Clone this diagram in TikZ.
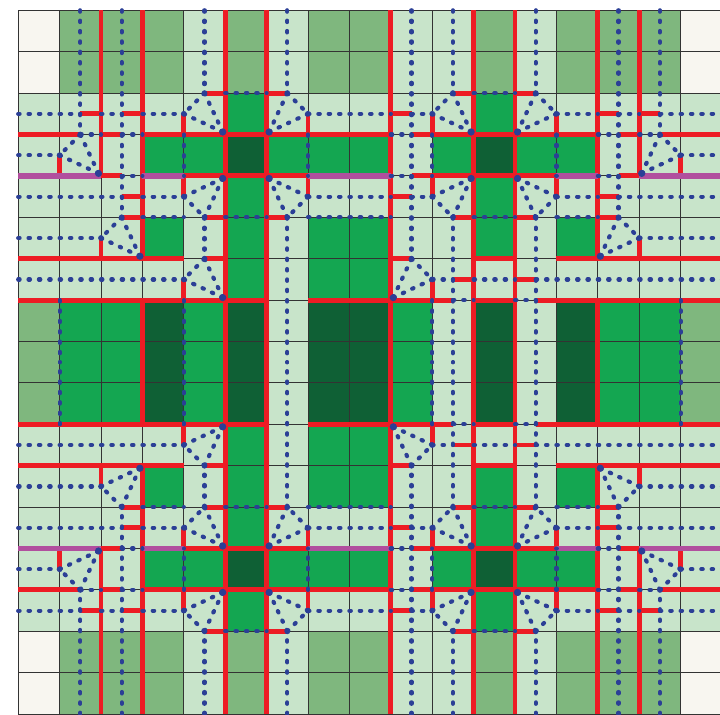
\documentclass[tikz,border=0pt]{standalone}
\definecolor{cwhite}{HTML}{F8F6F0}
\definecolor{clight}{HTML}{C8E4CA}
\definecolor{cmed}{HTML}{7FB77E}
\definecolor{cbright}{HTML}{14A651}
\definecolor{cdark}{HTML}{0F6035}
\definecolor{cred}{HTML}{ED1C24}
\definecolor{cmag}{HTML}{B14F9E}
\definecolor{cblue}{HTML}{2B3F96}
\definecolor{cgrid}{HTML}{333333}
\tikzset{
  gridl/.style={draw=cgrid,line width=1bp},
  redl/.style={draw=cred,line width=4.9bp},
  magl/.style={draw=cmag,line width=5.6bp},
  bdot/.style={draw=cblue,line width=4.2bp,line cap=round,dash pattern=on 1.4bp off 8.95bp},
}
\newcommand{\cellfill}[5]{\fill[#1] (#2,#3) rectangle (#4,#5);}
\newcommand{\trivert}[6]{%
  \draw[bdot] (#1,#2) -- (#3,#4);
  \draw[bdot] (#3,#4) -- (#5,#6);
  \draw[bdot] (#5,#6) -- (#1,#2);
  \fill[cblue] (#1,#2) circle (2.9bp);
  \fill[cblue] (#3,#4) circle (2.9bp);
  \fill[cblue] (#5,#6) circle (3.6bp);
}
\newcommand{\fillhalf}{%
  \foreach \ca/\cb in {0/1,16/17.2} {\cellfill{cwhite}{\ca}{0}{\cb}{2}}
  \foreach \ca/\cb in {1/4,5/6,7/9,11/12,13/16} {\cellfill{cmed}{\ca}{0}{\cb}{2}}
  \foreach \ca/\cb in {5/6,11/12} {\cellfill{cbright}{\ca}{2}{\cb}{3}}
  \foreach \ca/\cb in {3/5,6/9,10/11,12/14} {\cellfill{cbright}{\ca}{3}{\cb}{4}}
  \foreach \ca/\cb in {5/6,11/12} {\cellfill{cdark}{\ca}{3}{\cb}{4}}
  \foreach \ca/\cb in {5/6,11/12} {\cellfill{cbright}{\ca}{4}{\cb}{5}}
  \foreach \ca/\cb in {3/4,5/6,7/9,11/12,13/14} {\cellfill{cbright}{\ca}{5}{\cb}{6}}
  \foreach \ca/\cb in {5/6,7/9} {\cellfill{cbright}{\ca}{6}{\cb}{7}}
}
\newcommand{\linehalf}{%
  % red verticals
  \foreach \px/\ca/\cb in {1/3.5/4,2/0/4,2/5.5/6,3/0/6,3/7/8.55,4/2.5/3,4/4/4.5,4/6.5/7,5/0/8.55,6/0/8.55,
      7/2.5/3,7/4/4.5,9/0/8.55,10/2.5/3,10/4/4.5,10/6.5/7,11/0/8.55,12/0/8.55,13/2.5/3,13/4/4.5,
      14/0/6,14/7/8.55,15/0/4,15/5.5/6,16/3.5/4}
    {\draw[redl] (\px,\ca) -- (\px,\cb);}
  % red horizontals
  \foreach \py/\ca/\cb in {2/4.5/5,2/6/6.5,2/10.5/11,2/12/12.5,
      2.5/1.5/2,2.5/2.5/3,2.5/9/9.5,2.5/14/14.5,2.5/15/15.5,
      3/0/1.5,3/2/2.5,3/3/9,3/9.5/14,3/14.5/15,3/15.5/17.2,
      4/2/2.5,4/4/7,4/9.5/13,4/14.5/15,
      4.5/2.5/3,4.5/9/9.5,4.5/14/14.5,
      5/2.5/3,5/4.5/5,5/6/6.5,5/10.5/11,5/12/12.5,5/14/14.5,
      6/0/4,6/4.5/5,6/9/9.5,6/11/12,6/13/17.2,
      6.5/10.5/11,6.5/12/12.5,
      7/0/6,7/7/10.5,7/11/12,7/12.5/17.2}
    {\draw[redl] (\ca,\py) -- (\cb,\py);}
  % magenta
  \foreach \ca/\cb in {0/2,3/4,7/9,13/14,15/17.2}
    {\draw[magl] (\ca,4) -- (\cb,4);}
  % blue horizontals
  \foreach \py/\ca/\cb in {2/5/6,2/11/12,
      2.5/0/1.5,2.5/2/2.5,2.5/3/4,2.5/7/9,2.5/9.5/10,2.5/13/14,2.5/14.5/15,2.5/15.5/17.2,
      3/1.5/2,3/2.5/3,3/9/9.5,3/14/14.5,3/15/15.5,
      3.5/0/1,3.5/16/17.2,
      4/2.5/3,4/9/9.5,4/14/14.5,
      4.5/0/2.5,4.5/3/4,4.5/7/9,4.5/9.5/10,4.5/13/14,4.5/14.5/17.2,
      5/3/4,5/5/6,5/7/9,5/11/12,5/13/14,
      5.5/0/2,5.5/15/17.2,
      6.5/0/4,6.5/10/10.5,6.5/11/12,6.5/12.5/17.2,
      7/10.5/11,7/12/12.5}
    {\draw[bdot] (\ca,\py) -- (\cb,\py);}
  % blue verticals
  \foreach \px/\ca/\cb in {1.5/0/3,2.5/0/5,4.5/0/2,4.5/5/6,6.5/0/2,6.5/5/8.5,9.5/0/6,
      10.5/0/2,10.5/5/8.5,12.5/0/2,12.5/5/8.5,14.5/0/5,15.5/0/3,
      4/3/4,7/3/4,10/3/4,13/3/4,1/7/8.5,4/7/8.5,10/7/8.5,16/7/8.5}
    {\draw[bdot] (\px,\ca) -- (\px,\cb);}
  % triangles
  \trivert{1.5}{3}{1}{3.5}{1.94}{3.94}
  \trivert{4.5}{2}{4}{2.5}{4.94}{2.94}
  \trivert{4}{4.5}{4.5}{5}{4.94}{4.06}
  \trivert{2.5}{5}{2}{5.5}{2.94}{5.94}
  \trivert{4.5}{6}{4}{6.5}{4.94}{6.94}
  \trivert{6.5}{2}{7}{2.5}{6.06}{2.94}
  \trivert{7}{4.5}{6.5}{5}{6.06}{4.06}
  \trivert{10.5}{2}{10}{2.5}{10.94}{2.94}
  \trivert{10}{4.5}{10.5}{5}{10.94}{4.06}
  \trivert{12.5}{2}{13}{2.5}{12.06}{2.94}
  \trivert{13}{4.5}{12.5}{5}{12.06}{4.06}
  \trivert{15.5}{3}{16}{3.5}{15.06}{3.94}
  \trivert{14.5}{5}{15}{5.5}{14.06}{5.94}
  \trivert{9.5}{6}{10}{6.5}{9.06}{6.94}
}
\begin{document}
\begin{tikzpicture}[x=41.4bp,y=-41.4bp]
  \useasboundingbox (-18.2bp,10.3bp) rectangle (701.8bp,-704.7bp);
  \clip (-18.2bp,10.3bp) rectangle (701.8bp,-704.7bp);
  \fill[clight] (0,0) rectangle (17.2,17);
  \fillhalf
  \begin{scope}[shift={(0,17)},yscale=-1]\fillhalf\end{scope}
  \cellfill{cmed}{0}{7}{1}{10}
  \cellfill{cbright}{1}{7}{3}{10}
  \cellfill{cdark}{3}{7}{4}{10}
  \cellfill{cbright}{4}{7}{5}{10}
  \cellfill{cdark}{5}{7}{6}{10}
  \cellfill{cdark}{7}{7}{9}{10}
  \cellfill{cbright}{9}{7}{10}{10}
  \cellfill{cdark}{11}{7}{12}{10}
  \cellfill{cdark}{13}{7}{14}{10}
  \cellfill{cbright}{14}{7}{16}{10}
  \cellfill{cmed}{16}{7}{17.2}{10}
  \foreach \gx in {0,1,2,3,4,5,6,7,8,9,10,11,12,13,14,15,16,17} {\draw[gridl] (\gx,0) -- (\gx,17);}
  \foreach \gy in {0,1,2,3,4,5,6,7,8,9,10,11,12,13,14,15,16,17} {\draw[gridl] (0,\gy) -- (17.2,\gy);}
  \linehalf
  \begin{scope}[shift={(0,17)},yscale=-1]\linehalf\end{scope}
\end{tikzpicture}
\end{document}
